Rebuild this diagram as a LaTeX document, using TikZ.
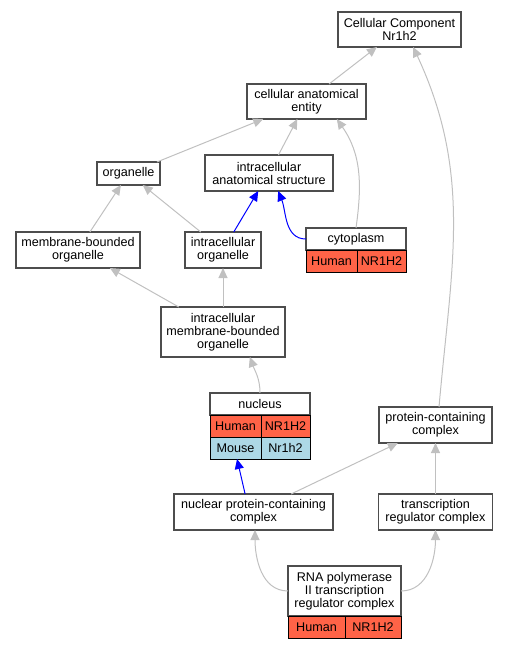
\documentclass[tikz,border=0pt]{standalone}
\usepackage{fontspec}
\setmainfont{Liberation Sans}
\usetikzlibrary{arrows.meta,positioning}
\definecolor{tomato}{RGB}{255,99,71}
\definecolor{lblue}{RGB}{173,216,230}
\definecolor{edgegray}{RGB}{192,192,192}
\definecolor{boxline}{RGB}{77,77,77}
\tikzset{
	term/.style={draw=boxline,line width=1.1pt,fill=white,inner sep=0pt,outer sep=0pt,align=center,font=\fontsize{12.6}{13}\selectfont},
	hum/.style={term,draw=black,line width=0.8pt,fill=tomato,minimum height=22pt,anchor=north west},
	mou/.style={hum,fill=lblue},
	isa/.style={draw=edgegray,line width=1pt,-{Triangle[length=10pt,width=9pt]}},
	partof/.style={isa,draw=blue}
}
\begin{document}
\begin{tikzpicture}[x=1pt,y=-1pt]
	\useasboundingbox (0,0) rectangle (508,648);
	\node[term,minimum width=123pt,minimum height=35pt] (cc) at (399.5,29.5) {Cellular Component\\Nr1h2};
	\node[term,minimum width=119pt,minimum height=35pt] (cae) at (306.5,101.5) {cellular anatomical\\entity};
	\node[term,minimum width=63pt,minimum height=23pt] (org) at (128.5,173.5) {organelle};
	\node[term,minimum width=128pt,minimum height=36pt] (ias) at (269,173) {intracellular\\anatomical structure};
	\node[term,minimum width=124pt,minimum height=36pt] (mbo) at (78,250) {membrane-bounded\\organelle};
	\node[term,minimum width=76pt,minimum height=36pt] (io) at (223,250) {intracellular\\organelle};
	\node[term,minimum width=100pt,minimum height=22pt] (cyto) at (356,239) {cytoplasm};
	\node[hum,minimum width=51pt] (cytoH) at (cyto.south west) {Human};
	\node[hum,minimum width=49pt] (cytoG) at (cytoH.north east) {NR1H2};
	\node[term,minimum width=124pt,minimum height=50pt,below=39pt of io] (imbo) {intracellular\\membrane-bounded\\organelle};
	\node[term,minimum width=100pt,minimum height=22pt] (nuc) at (260,404) {nucleus};
	\node[hum,minimum width=51pt] (nucH) at (nuc.south west) {Human};
	\node[hum,minimum width=49pt] (nucHG) at (nucH.north east) {NR1H2};
	\node[mou,minimum width=51pt] (nucM) at (nucH.south west) {Mouse};
	\node[mou,minimum width=49pt] (nucMG) at (nucM.north east) {Nr1h2};
	\node[term,minimum width=113pt,minimum height=36pt] (pcc) at (435.5,425) {protein-containing\\complex};
	\node[term,minimum width=159pt,minimum height=36pt] (npcc) at (253.5,512) {nuclear protein-containing\\complex};
	\node[term,minimum width=114pt,minimum height=36pt,below=51pt of pcc] (trc) {transcription\\regulator complex};
	\node[term,minimum width=113pt,minimum height=50pt] (rnap) at (344.5,591) {RNA polymerase\\II transcription\\regulator complex};
	\node[hum,minimum width=57pt] (rnapH) at (rnap.south west) {Human};
	\node[hum,minimum width=56pt] (rnapG) at (rnapH.north east) {NR1H2};

	\draw[isa] (cae) -- (cc);
	\draw[isa] ([xshift=3.5pt]pcc.north) to[out=85,in=-65] (cc.-52);
	\draw[isa] (org) -- (cae);
	\draw[isa] (ias) -- (cae);
	\draw[isa] (cyto.north) to[out=82,in=-55] (cae.-30);
	\draw[isa] (mbo) -- (org);
	\draw[isa] (io) -- (org);
	\draw[partof] (io) -- (ias);
	\draw[partof] (cyto.west) to[out=180,in=-68] (ias.-63);
	\draw[isa] (imbo) -- (mbo);
	\draw[isa] (imbo) -- (io);
	\draw[isa] (nuc.north) to[out=90,in=-70] (imbo.-43);
	\draw[partof] (npcc.115) -- (nucM.-82);
	\draw[isa] (npcc) -- (pcc);
	\draw[isa] (trc) -- (pcc);
	\draw[isa] (rnap.west) to[out=180,in=-90] ([xshift=1.5pt]npcc.south);
	\draw[isa] (rnap.east) to[out=0,in=-90] (trc.south);
\end{tikzpicture}
\end{document}
